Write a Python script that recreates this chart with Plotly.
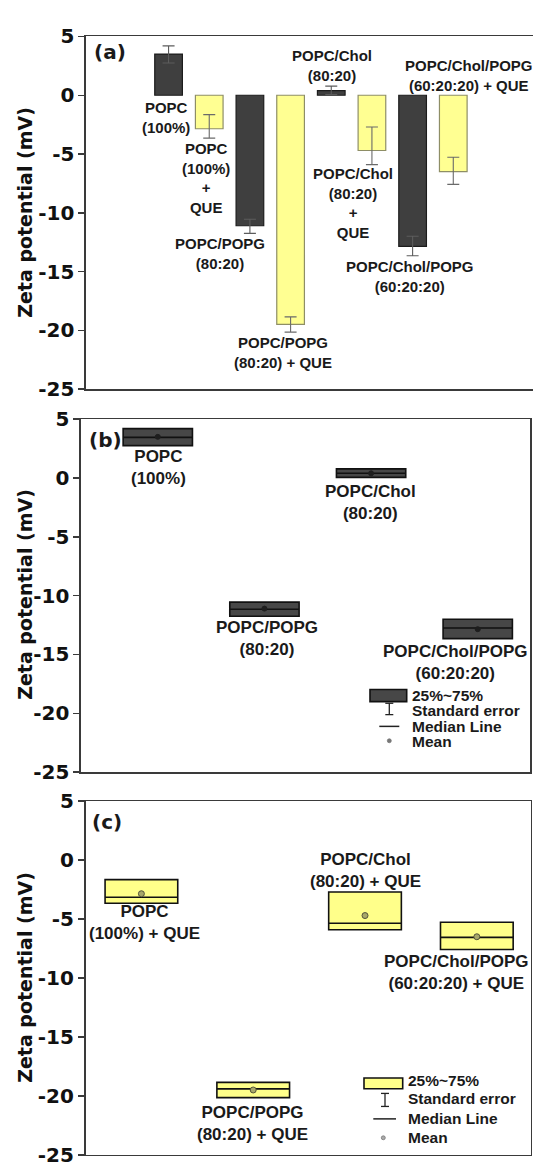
import plotly.graph_objects as go

W, H = 533, 1173

# ---------------- data ----------------
samples = ["POPC (100%)", "POPC (100%) + QUE",
           "POPC/POPG (80:20)", "POPC/POPG (80:20) + QUE",
           "POPC/Chol (80:20)", "POPC/Chol (80:20) + QUE",
           "POPC/Chol/POPG (60:20:20)", "POPC/Chol/POPG (60:20:20) + QUE"]
has_que = [False, True, False, True, False, True, False, True]
mean_zp = [3.5, -2.85, -11.1, -19.5, 0.4, -4.7, -12.85, -6.5]
median_zp = [3.45, -3.15, -11.15, -19.4, 0.4, -5.35, -12.75, -6.55]
q1_zp = [2.75, -3.65, -11.75, -20.15, 0.05, -5.9, -13.65, -7.58]
q3_zp = [4.2, -1.65, -10.55, -18.85, 0.78, -2.7, -12.0, -5.27]

y_ticks = [5, 0, -5, -10, -15, -20, -25]
y_title = "Zeta potential (mV)"
legend_items = ["25%~75%", "Standard error", "Median Line", "Mean"]

# colours
DARK = "#3f3f3f"
DARK_LINE = "#1c1c1c"
YEL = "#ffff92"
YEL_LINE = "#8e8e66"
BOX_DARK = "#474747"
BOX_YEL = "#ffff8a"
AX = "#3a3a3a"
FONT = "Arial, Liberation Sans, sans-serif"
FONT_W = "DejaVu Sans, sans-serif"


def px_x(p):
    return p / W


def px_y(p):
    return 1 - p / H


def sel(vals, que):
    return [v for v, q in zip(vals, has_que) if q == que]


fig = go.Figure()

# ---------------- panel (a): bars ----------------
for que, fill, line, ecol in [(False, DARK, DARK_LINE, "#5c5c5c"), (True, YEL, YEL_LINE, "#6a6a6a")]:
    m = sel(mean_zp, que)
    lo = sel(q1_zp, que)
    hi = sel(q3_zp, que)
    fig.add_trace(go.Bar(
        x=sel(samples, que), y=m,
        width=0.68,
        marker=dict(color=fill, line=dict(color=line, width=1.2)),
        error_y=dict(type="data", symmetric=False,
                     array=[h - v for h, v in zip(hi, m)],
                     arrayminus=[v - l for v, l in zip(m, lo)],
                     color=ecol, thickness=1.1, width=6),
        xaxis="x", yaxis="y", showlegend=False, hoverinfo="skip"))

# ---------------- panels (b), (c): boxes ----------------
for que, fill, ax, mcol, mline, msize in [
        (False, BOX_DARK, "2", "#1e1e1e", "#1e1e1e", 5),
        (True, BOX_YEL, "3", "#a8a86a", "#55553a", 6)]:
    q1 = sel(q1_zp, que)
    q3 = sel(q3_zp, que)
    fig.add_trace(go.Box(
        x=sel(samples, que), q1=q1, median=sel(median_zp, que), q3=q3,
        lowerfence=q1, upperfence=q3,
        width=0.65, whiskerwidth=0, boxpoints=False,
        fillcolor=fill, line=dict(color="#111111", width=1.6),
        xaxis="x" + ax, yaxis="y" + ax, showlegend=False, hoverinfo="skip"))
    fig.add_trace(go.Scatter(
        x=sel(samples, que), y=sel(mean_zp, que), mode="markers",
        marker=dict(size=msize, color=mcol, line=dict(color=mline, width=1)),
        xaxis="x" + ax, yaxis="y" + ax, showlegend=False, hoverinfo="skip"))

# ---------------- axes ----------------
yax = dict(range=[-25, 5], tickvals=y_ticks, ticktext=[str(t) for t in y_ticks],
           ticks="outside", ticklen=6, tickwidth=1.5, tickcolor=AX,
           showline=True, linecolor=AX, linewidth=1.6, showgrid=False, zeroline=False,
           tickfont=dict(family=FONT_W, size=20, color="#111", weight="bold"))
xax = dict(showline=True, linecolor=AX, linewidth=1.6, mirror=True, showgrid=False,
           zeroline=False, showticklabels=False, ticks="", type="category")

panels = {
    "": dict(xd=[86, 533], yd=[25, 385], xr=[-2.03, 8.96], ymirror=False,
             cats=samples),
    "2": dict(xd=[81, 530], yd=[415.7, 776], xr=[-0.72, 3.49], ymirror=True,
              cats=sel(samples, False)),
    "3": dict(xd=[85.5, 530.5], yd=[805.7, 1166.7], xr=[-0.5, 3.48], ymirror=True,
              cats=sel(samples, True)),
}
layout_axes = {}
for k, p in panels.items():
    layout_axes["xaxis" + k] = dict(xax, domain=[px_x(p["xd"][0]), px_x(p["xd"][1])],
                                    range=p["xr"], categoryarray=p["cats"],
                                    categoryorder="array", anchor="y" + k)
    layout_axes["yaxis" + k] = dict(yax, domain=[px_y(p["yd"][1]), px_y(p["yd"][0])],
                                    mirror=p["ymirror"], anchor="x" + k)

# ---------------- annotations ----------------
ann = []


def label(text, cx, cy, size, xanchor="center", family=FONT):
    ann.append(dict(text=text, x=px_x(cx), y=px_y(cy), xref="paper", yref="paper",
                    xanchor=xanchor, yanchor="middle", showarrow=False,
                    font=dict(family=family, size=size, color="#1a1a1a", weight="bold")))


# panel letters
label("(a)", 92, 41, 20, "left", FONT_W)
label("(b)", 87, 437, 20, "left", FONT_W)
label("(c)", 90, 827, 20, "left", FONT_W)

# y titles
for cy in [205, 595, 986]:
    ann.append(dict(text=y_title, x=px_x(25), y=px_y(cy), xref="paper", yref="paper",
                    xanchor="center", yanchor="middle", textangle=-90, showarrow=False,
                    font=dict(family=FONT_W, size=19, color="#111", weight="bold")))

# panel (a) labels
SA = 15
label("POPC<br>(100%)", 165.5, 108, SA)
label("POPC<br>(100%)<br>+<br>QUE", 206, 169, SA)
label("POPC/POPG<br>(80:20)", 219.5, 247, SA)
label("POPC/POPG<br>(80:20) + QUE", 283, 348, SA)
label("POPC/Chol<br>(80:20)", 331.7, 55, SA)
label("POPC/Chol<br>(80:20)<br>+<br>QUE", 353, 195, SA)
label("POPC/Chol/POPG<br>(60:20:20)", 410, 270, SA)
label("POPC/Chol/POPG<br>(60:20:20) + QUE", 469, 64.5, SA)

# panel (b) labels
SB = 17
label("POPC<br>(100%)", 158.2, 465.3, SB)
label("POPC/POPG<br>(80:20)", 267, 640, SB)
label("POPC/Chol<br>(80:20)", 370.7, 500.5, SB)
label("POPC/Chol/POPG<br>(60:20:20)", 455, 664.2, SB)

# panel (c) labels
label("POPC<br>(100%) + QUE", 144, 930, SB)
label("POPC/POPG<br>(80:20) + QUE", 252.5, 1134.5, SB)
label("POPC/Chol<br>(80:20) + QUE", 365, 876.5, SB)
label("POPC/Chol/POPG<br>(60:20:20) + QUE", 456.8, 981, SB)

# ---------------- in-plot legends ----------------
shapes = []


def legend_block(rect, err_x, err_y, med_x, med_y, dot_x, dot_y, text_x, text_ys,
                 fill, dot_fill, dot_line):
    shapes.append(dict(type="rect", xref="paper", yref="paper",
                       x0=px_x(rect[0]), x1=px_x(rect[1]), y0=px_y(rect[3]), y1=px_y(rect[2]),
                       fillcolor=fill, line=dict(color="#111", width=1.6)))
    shapes.append(dict(type="line", xref="paper", yref="paper",
                       x0=px_x(err_x), x1=px_x(err_x), y0=px_y(err_y[0]), y1=px_y(err_y[1]),
                       line=dict(color="#222", width=1.3)))
    for yy in err_y:
        shapes.append(dict(type="line", xref="paper", yref="paper",
                           x0=px_x(err_x - 4), x1=px_x(err_x + 4), y0=px_y(yy), y1=px_y(yy),
                           line=dict(color="#222", width=1.3)))
    shapes.append(dict(type="line", xref="paper", yref="paper",
                       x0=px_x(med_x[0]), x1=px_x(med_x[1]), y0=px_y(med_y), y1=px_y(med_y),
                       line=dict(color="#222", width=1.5)))
    shapes.append(dict(type="circle", xref="paper", yref="paper",
                       x0=px_x(dot_x - 2), x1=px_x(dot_x + 2), y0=px_y(dot_y + 2), y1=px_y(dot_y - 2),
                       fillcolor=dot_fill, line=dict(color=dot_line, width=0.8)))
    for t, yy in zip(legend_items, text_ys):
        ann.append(dict(text=t, x=px_x(text_x), y=px_y(yy), xref="paper", yref="paper",
                        xanchor="left", yanchor="middle", showarrow=False,
                        font=dict(family=FONT, size=15.5, color="#1a1a1a", weight="bold")))


legend_block([370, 406.7, 691.7, 704], 389.3, [705.7, 717.3], [379.3, 399.3], 729.3,
             389.3, 744, 410, [697.3, 713, 729, 744.5], BOX_DARK, "#777", "#777")
legend_block([364, 402.7, 1088.3, 1099.3], 385, [1104, 1117.3], [373.3, 396], 1130,
             383.3, 1149.3, 406, [1091, 1109.5, 1130, 1149.5], BOX_YEL, "#aaa", "#777")

fig.update_layout(
    width=W, height=H, margin=dict(l=0, r=0, t=0, b=0),
    paper_bgcolor="white", plot_bgcolor="white",
    barmode="overlay", boxmode="overlay",
    annotations=ann, shapes=shapes,
    **layout_axes)

fig.write_html("out.html", config={"displayModeBar": False, "staticPlot": True},
               post_script="document.body.style.margin='0';document.body.style.overflow='hidden';")
